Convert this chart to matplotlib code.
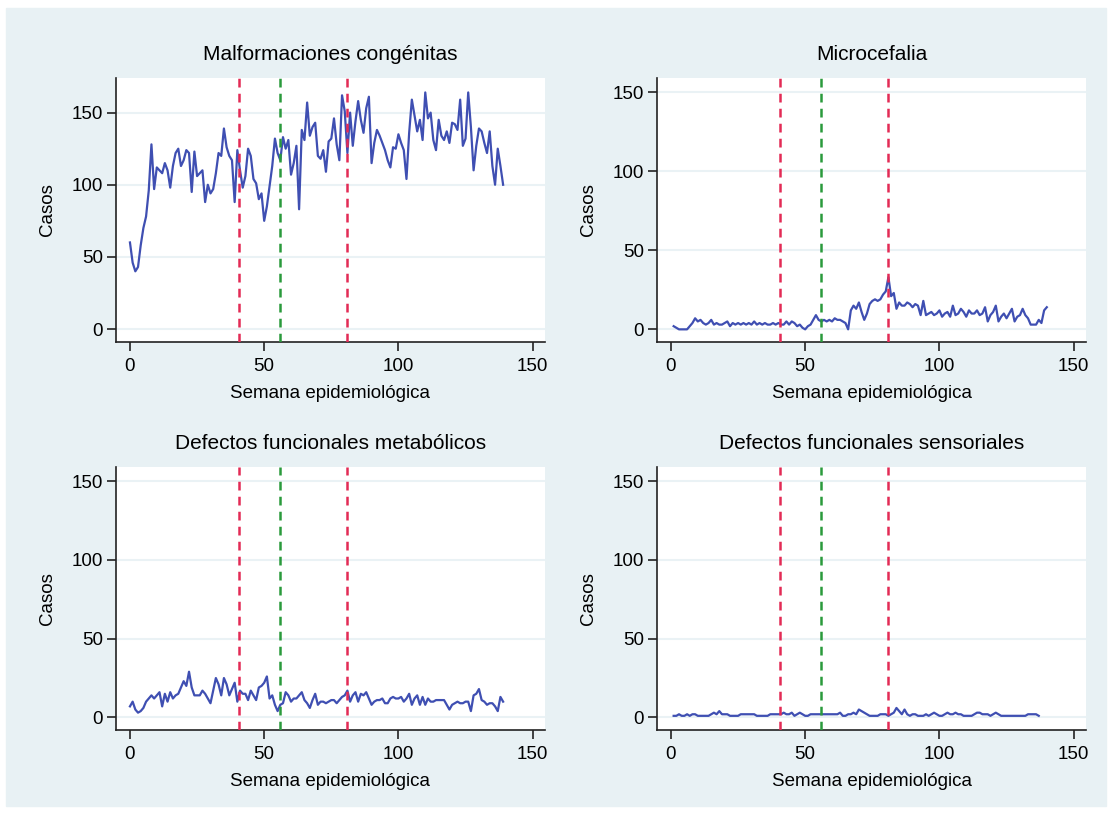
import numpy as np
import matplotlib
matplotlib.use("Agg")
import matplotlib.pyplot as plt
from matplotlib.patches import Rectangle

plt.rcParams["font.family"] = ["Liberation Sans", "DejaVu Sans"]

# semanas epidemiológicas (paneles izquierdos empiezan en 0, derechos en 1)
semanas_izq = np.arange(0, 140)
semanas_der = np.arange(1, 141)
semanas_sens = np.arange(1, 138)

malformaciones = [
    60, 46, 40, 43, 58, 70, 78, 96, 128, 97, 112, 110, 108, 115, 110, 98, 113, 122, 125, 113,
    117, 124, 122, 95, 123, 106, 108, 110, 88, 100, 94, 97, 108, 122, 120, 139, 126, 120, 117, 88,
    124, 110, 98, 106, 125, 120, 104, 101, 90, 94, 75, 85, 99, 113, 132, 122, 117, 133, 125, 131,
    107, 115, 127, 83, 138, 131, 157, 134, 140, 143, 120, 118, 124, 109, 130, 132, 146, 128, 117, 162,
    151, 122, 150, 127, 144, 158, 145, 136, 153, 161, 115, 129, 138, 134, 129, 124, 117, 112, 126, 125,
    135, 129, 124, 104, 136, 159, 148, 137, 145, 131, 164, 146, 150, 131, 124, 145, 134, 131, 137, 129,
    143, 142, 138, 159, 127, 132, 164, 140, 110, 127, 139, 137, 129, 122, 137, 113, 100, 125, 113, 100,
]

microcefalia = [
    2, 1, 0, 0, 0, 0, 2, 4, 7, 5, 6, 4, 3, 4, 6, 3, 4, 3, 3, 4,
    5, 2, 4, 3, 4, 3, 4, 3, 4, 3, 5, 3, 4, 3, 4, 3, 3, 4, 3, 4,
    3, 3, 5, 3, 5, 4, 2, 3, 1, 0, 2, 3, 6, 9, 6, 5, 6, 5, 6, 5,
    7, 6, 6, 5, 4, 0, 12, 15, 13, 17, 11, 6, 10, 16, 18, 19, 18, 19, 22, 24,
    33, 21, 23, 13, 17, 15, 15, 17, 16, 14, 16, 15, 9, 18, 9, 10, 11, 9, 10, 12,
    8, 10, 11, 8, 15, 9, 10, 13, 11, 8, 12, 10, 10, 12, 9, 10, 14, 5, 9, 11,
    15, 5, 8, 10, 7, 10, 13, 5, 8, 9, 13, 9, 7, 3, 3, 3, 6, 4, 12, 14,
]

metabolicos = [
    7, 10, 5, 3, 4, 6, 10, 12, 14, 12, 14, 16, 7, 15, 10, 16, 12, 14, 15, 19,
    23, 20, 29, 19, 14, 14, 14, 17, 15, 12, 9, 17, 25, 21, 14, 25, 21, 14, 18, 22,
    10, 17, 15, 15, 11, 17, 14, 11, 19, 20, 22, 26, 12, 14, 8, 4, 8, 9, 16, 14,
    10, 12, 12, 14, 16, 11, 9, 6, 11, 15, 8, 10, 10, 9, 10, 11, 11, 9, 11, 13,
    14, 17, 10, 14, 16, 10, 15, 14, 16, 12, 8, 10, 11, 11, 12, 9, 9, 12, 13, 12,
    12, 13, 10, 12, 15, 8, 12, 14, 8, 13, 8, 12, 10, 10, 11, 11, 11, 11, 8, 5,
    8, 9, 10, 9, 9, 10, 10, 4, 14, 15, 18, 11, 10, 8, 9, 9, 7, 4, 13, 10,
]

sensoriales = [
    1, 1, 2, 1, 1, 2, 1, 2, 2, 1, 1, 1, 1, 1, 2, 3, 2, 4, 2, 2,
    2, 1, 1, 1, 1, 2, 2, 2, 2, 2, 2, 1, 1, 1, 1, 1, 2, 2, 2, 2,
    2, 3, 2, 2, 3, 1, 2, 3, 2, 1, 1, 2, 2, 2, 2, 2, 2, 2, 2, 2,
    2, 2, 3, 1, 1, 2, 2, 3, 2, 5, 4, 3, 2, 1, 1, 1, 1, 2, 2, 2,
    1, 2, 3, 6, 4, 2, 5, 2, 1, 2, 2, 1, 1, 1, 2, 1, 2, 3, 2, 1,
    1, 2, 3, 2, 2, 3, 2, 2, 1, 1, 1, 1, 2, 3, 3, 2, 2, 2, 1, 2,
    3, 2, 1, 1, 1, 1, 1, 1, 1, 1, 1, 1, 2, 2, 2, 2, 1,
]

titulos = ["Malformaciones congénitas", "Microcefalia",
           "Defectos funcionales metabólicos", "Defectos funcionales sensoriales"]
cortes_rojos = [40.6, 80.8]
corte_verde = 56
yticks = [0, 50, 100, 150]
xticks = [0, 50, 100, 150]

BG = "#e8f1f4"
AZUL = "#3f4fb2"
ROJO = "#e32b55"
VERDE = "#2a9a3c"

fig = plt.figure(figsize=(11.12, 8.16), dpi=100)
fig.patches.append(Rectangle((6 / 1112, 10 / 816), 1100 / 1112, 798 / 816,
                             transform=fig.transFigure, color=BG, zorder=-5))

W, H = 1112, 816
# (left, right, top, bottom) en pixeles
cajas = [(116, 545, 78, 342), (657, 1086, 78, 342),
         (116, 545, 467, 730), (657, 1086, 467, 730)]
ylims = [(-9, 174), (-8, 159), (-8, 159), (-8, 159)]
series = [(semanas_izq, malformaciones), (semanas_der, microcefalia),
          (semanas_izq, metabolicos), (semanas_sens, sensoriales)]

for k, (l, r, t, b) in enumerate(cajas):
    ax = fig.add_axes([l / W, 1 - b / H, (r - l) / W, (b - t) / H])
    ax.set_zorder(2)
    ax.set_facecolor("white")
    x, y = series[k]
    for yt in yticks:
        ax.axhline(yt, color="#eaf2f5", lw=1.5, zorder=0)
    ax.plot(x, y, color=AZUL, lw=1.6, zorder=3)
    for xr in cortes_rojos:
        ax.axvline(xr, color=ROJO, lw=1.8, ls=(0, (3.5, 2.5)), zorder=4)
    ax.axvline(corte_verde, color=VERDE, lw=1.8, ls=(0, (3.5, 2.5)), zorder=4)
    ax.set_xlim(-5.2, 154.6)
    ax.set_ylim(*ylims[k])
    ax.set_xticks(xticks)
    ax.set_yticks(yticks)
    for s in ("top", "right"):
        ax.spines[s].set_visible(False)
    for s in ("left", "bottom"):
        ax.spines[s].set_linewidth(1.2)
        ax.spines[s].set_color("#222222")
    ax.tick_params(length=6.5, width=1.2, labelsize=13.5, color="#222222")
    ax.tick_params(axis="x", pad=5)
    ax.tick_params(axis="y", pad=3)
    ax.set_title(titulos[k], fontsize=15, pad=13)
    ax.set_xlabel("Semana epidemiológica", fontsize=13.5, labelpad=7)
    ax.set_ylabel("Casos", fontsize=13.5, labelpad=11)

fig.savefig("out.png", dpi=100, facecolor="white")
